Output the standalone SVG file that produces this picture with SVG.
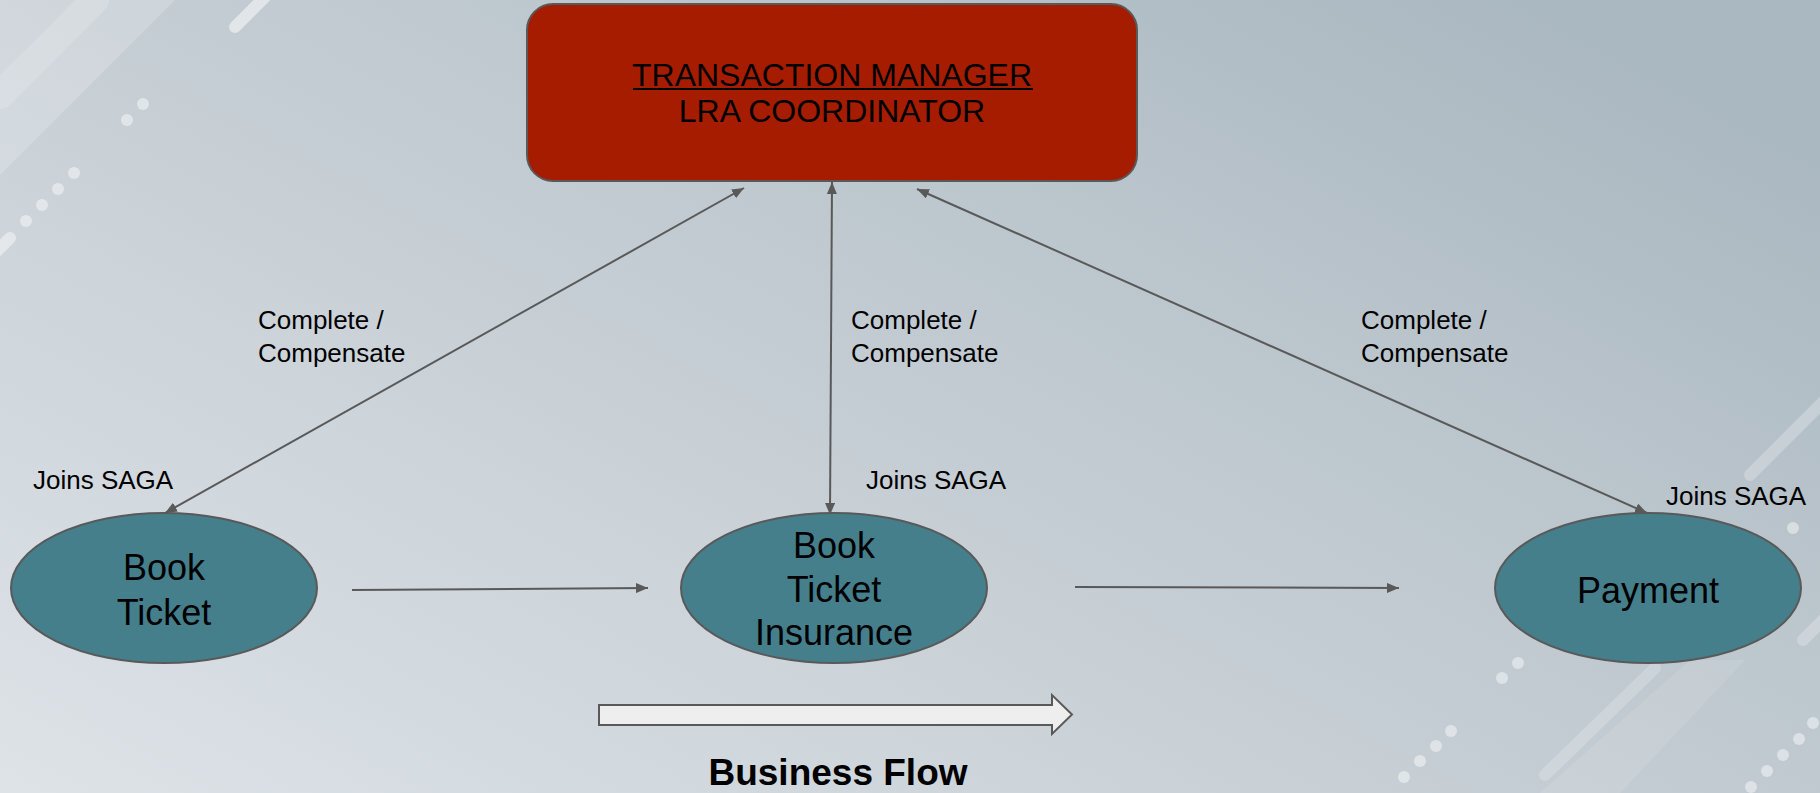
<svg xmlns="http://www.w3.org/2000/svg" width="1820" height="793" viewBox="0 0 1820 793">
  <defs>
    <linearGradient id="bg" x1="0" y1="1" x2="1" y2="0.2">
      <stop offset="0" stop-color="#dde3e7"/>
      <stop offset="0.35" stop-color="#cdd4da"/>
      <stop offset="0.7" stop-color="#bcc6cd"/>
      <stop offset="1" stop-color="#aab8c1"/>
    </linearGradient>
    <marker id="tip" viewBox="0 0 12 10" refX="12" refY="5" markerWidth="12" markerHeight="10" markerUnits="userSpaceOnUse" orient="auto-start-reverse">
      <path d="M0,0 L12,5 L0,10 Z" fill="#595959"/>
    </marker>
    <style>
      .deco { stroke: #ffffff; stroke-linecap: round; fill: none; }
      .dot { fill: #ffffff; opacity: 0.45; }
      .conn { stroke: #595959; stroke-width: 2; fill: none; }
      .node-shape { fill: #457f8c; stroke: #595959; stroke-width: 2; }
      .node-text { font-family: "Liberation Sans", Arial, sans-serif; font-size: 36px; fill: #000000; text-anchor: middle; }
      .label { font-family: "Liberation Sans", Arial, sans-serif; font-size: 26px; fill: #000000; }
      .tm-text { font-family: "Liberation Sans", Arial, sans-serif; font-size: 32px; fill: #000000; text-anchor: middle; }
    </style>
  </defs>

  <!-- backdrop -->
  <rect width="1820" height="793" fill="url(#bg)"/>
  <g id="backdrop-decor">
    <polygon points="0,0 175,0 0,175" fill="#ffffff" opacity="0.18"/>
    <line class="deco" x1="0" y1="95" x2="95" y2="0" stroke-width="28" opacity="0.15"/>
    <line class="deco" x1="235" y1="27" x2="265" y2="-3" stroke-width="12" opacity="0.5"/>
    <circle class="dot" cx="143" cy="104" r="6"/>
    <circle class="dot" cx="127" cy="120" r="6"/>
    <circle class="dot" cx="74" cy="173" r="6"/>
    <circle class="dot" cx="58" cy="189" r="6"/>
    <circle class="dot" cx="42" cy="205" r="6"/>
    <circle class="dot" cx="26" cy="221" r="6"/>
    <line class="deco" x1="10" y1="238" x2="-20" y2="268" stroke-width="12" opacity="0.45"/>

    <line class="deco" x1="1750" y1="475" x2="1840" y2="385" stroke-width="12" opacity="0.25"/>
    <line class="deco" x1="1803" y1="640" x2="1840" y2="603" stroke-width="12" opacity="0.25"/>
    <polygon points="1690,660 1745,660 1620,793 1540,793" fill="#ffffff" opacity="0.1"/>
    <line class="deco" x1="1545" y1="775" x2="1655" y2="668" stroke-width="12" opacity="0.2"/>
    <circle class="dot" cx="1793" cy="528" r="6" opacity="0.3"/>
    <circle class="dot" cx="1518" cy="663" r="6"/>
    <circle class="dot" cx="1502" cy="678" r="6"/>
    <circle class="dot" cx="1451" cy="731" r="6"/>
    <circle class="dot" cx="1436" cy="746" r="6"/>
    <circle class="dot" cx="1420" cy="761" r="6"/>
    <circle class="dot" cx="1404" cy="777" r="6"/>
    <circle class="dot" cx="1813" cy="723" r="6"/>
    <circle class="dot" cx="1799" cy="739" r="6"/>
    <circle class="dot" cx="1783" cy="755" r="6"/>
    <circle class="dot" cx="1767" cy="771" r="6"/>
    <circle class="dot" cx="1751" cy="787" r="6"/>
  </g>

  <!-- connectors -->
  <g id="connectors">
    <line class="conn" x1="744" y1="188" x2="165" y2="513" marker-start="url(#tip)" marker-end="url(#tip)"/>
    <line class="conn" x1="832" y1="182" x2="830" y2="515" marker-start="url(#tip)" marker-end="url(#tip)"/>
    <line class="conn" x1="917" y1="189" x2="1647" y2="513" marker-start="url(#tip)" marker-end="url(#tip)"/>
    <line class="conn" x1="352" y1="590" x2="648" y2="588" marker-end="url(#tip)"/>
    <line class="conn" x1="1075" y1="587" x2="1399" y2="588" marker-end="url(#tip)"/>
  </g>

  <!-- connector labels -->
  <g id="labels">
    <text class="label" x="258" y="329">Complete /</text>
    <text class="label" x="258" y="362">Compensate</text>
    <text class="label" x="851" y="329">Complete /</text>
    <text class="label" x="851" y="362">Compensate</text>
    <text class="label" x="1361" y="329">Complete /</text>
    <text class="label" x="1361" y="362">Compensate</text>
    <text class="label" x="33" y="489">Joins SAGA</text>
    <text class="label" x="866" y="489">Joins SAGA</text>
    <text class="label" x="1666" y="505">Joins SAGA</text>
  </g>

  <g id="transaction-manager">
    <rect x="527" y="4" width="610" height="177" rx="26" ry="26" fill="#a61c00" stroke="#595959" stroke-width="2"/>
    <text class="tm-text" x="832" y="86">TRANSACTION MANAGER</text>
    <rect x="633" y="88" width="400" height="2" fill="#000000"/>
    <text class="tm-text" x="832" y="122">LRA COORDINATOR</text>
  </g>

  <g id="book-ticket">
    <ellipse class="node-shape" cx="164" cy="588" rx="153" ry="75"/>
    <text class="node-text" x="164" y="580">Book</text>
    <text class="node-text" x="164" y="625">Ticket</text>
  </g>

  <g id="book-ticket-insurance">
    <ellipse class="node-shape" cx="834" cy="588" rx="153" ry="75"/>
    <text class="node-text" x="834" y="558">Book</text>
    <text class="node-text" x="834" y="602">Ticket</text>
    <text class="node-text" x="834" y="645">Insurance</text>
  </g>

  <g id="payment">
    <ellipse class="node-shape" cx="1648" cy="588" rx="153" ry="75"/>
    <text class="node-text" x="1648" y="603">Payment</text>
  </g>

  <g id="business-flow">
    <path d="M599,705 L1052,705 L1052,695 L1072,714.5 L1052,734 L1052,725 L599,725 Z" fill="#eeeeee" stroke="#595959" stroke-width="2"/>
    <text x="838" y="785" font-family="Liberation Sans, Arial, sans-serif" font-size="37" font-weight="bold" text-anchor="middle" fill="#000000">Business Flow</text>
  </g>
</svg>
